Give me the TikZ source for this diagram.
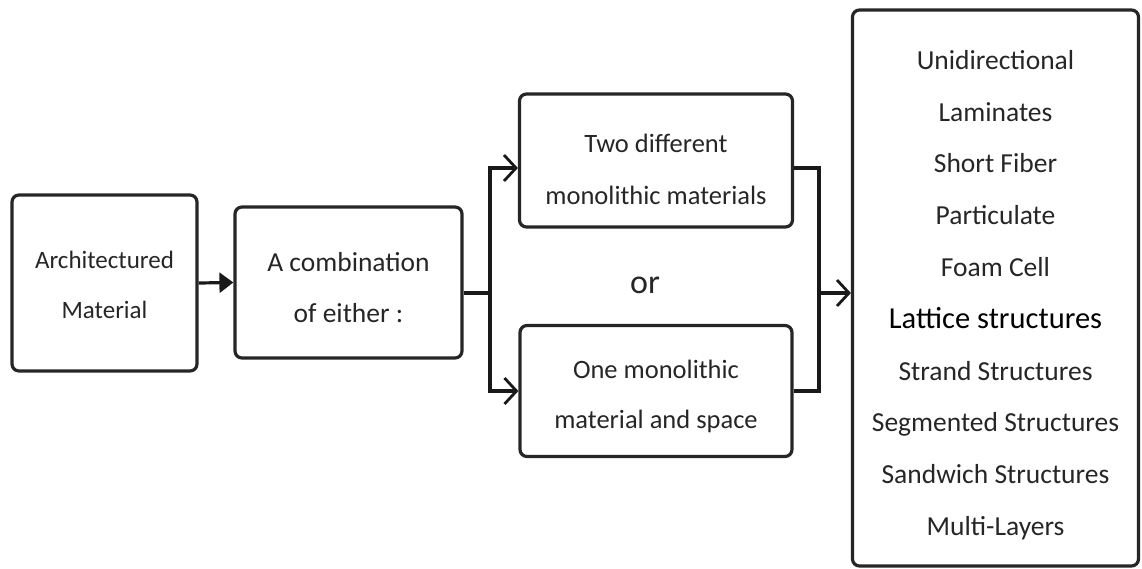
\documentclass[tikz,border=0pt]{standalone}
\usepackage{fontspec}
\setmainfont{Carlito}
\usetikzlibrary{arrows.meta}
\begin{document}
\begin{tikzpicture}[x=1pt,y=1pt,
  box/.style={draw=black!85, line width=3.2pt, rounded corners=7pt, inner sep=0pt},
  txt/.style={inner sep=0pt, align=center, text=black!85, font=\fontsize{25}{50}\selectfont},
  conn/.style={draw=black!90, line width=3.2pt},
  barb/.style={conn, -{Straight Barb[length=12pt,width=26pt,line width=2.8pt]}},
  tri/.style={conn, -{Triangle[length=14pt,width=20pt]}}
]
\useasboundingbox (0,0) rectangle (1142,-569);
\node[box, minimum width=185pt, minimum height=176pt] (b1) at (104.5,-283) {};
\node[txt] (t1) at (104.5,-285) {Architectured\\Material};
\node[box, minimum width=227pt, minimum height=151pt] (b2) at (348.5,-282.5) {};
\node[txt, font=\fontsize{27.5}{51}\selectfont] (t2) at (348.5,-288) {A combination\\of either :};
\node[box, minimum width=273pt, minimum height=133pt] (b3) at (656,-160.5) {};
\node[txt, font=\fontsize{26.5}{52}\selectfont] (t3) at (656,-169) {Two different\\monolithic materials};
\node[box, minimum width=272pt, minimum height=131pt] (b4) at (656,-391) {};
\node[txt, font=\fontsize{26.5}{50}\selectfont] (t4) at (656,-396) {One monolithic\\material and space};
\node[box, minimum width=286pt, minimum height=556pt] (b5) at (995.5,-288) {};
\node[txt, font=\fontsize{27.5}{51.8}\selectfont] (t5) at (995.5,-295)
 {Unidirectional\\Laminates\\Short Fiber\\Particulate\\Foam Cell\\{\fontsize{30.5}{51.8}\selectfont\color{black}Lattice structures}\\Strand Structures\\Segmented Structures\\Sandwich Structures\\Multi-Layers};
\node[font=\fontsize{34}{40}\selectfont, text=black!85] (or) at (645,-285) {or};
\coordinate (j1) at (490,-293);
\coordinate (rt) at (819,-168);
\coordinate (rb) at (819,-391);
\coordinate (j2) at (819,-293);
\draw[tri] (b1.east) -- (b2.west);
\draw[conn] (b2.east |- j1) -- (j1);
\draw[barb] (j1) |- ([yshift=-7.5pt]b3.west);
\draw[barb] (j1) |- (b4.west);
\draw[conn] ([yshift=-7.5pt]b3.east) -- (rt) -- (rb) -- (b4.east);
\draw[barb] (j2) -- (b5.west |- j2);
\end{tikzpicture}
\end{document}
